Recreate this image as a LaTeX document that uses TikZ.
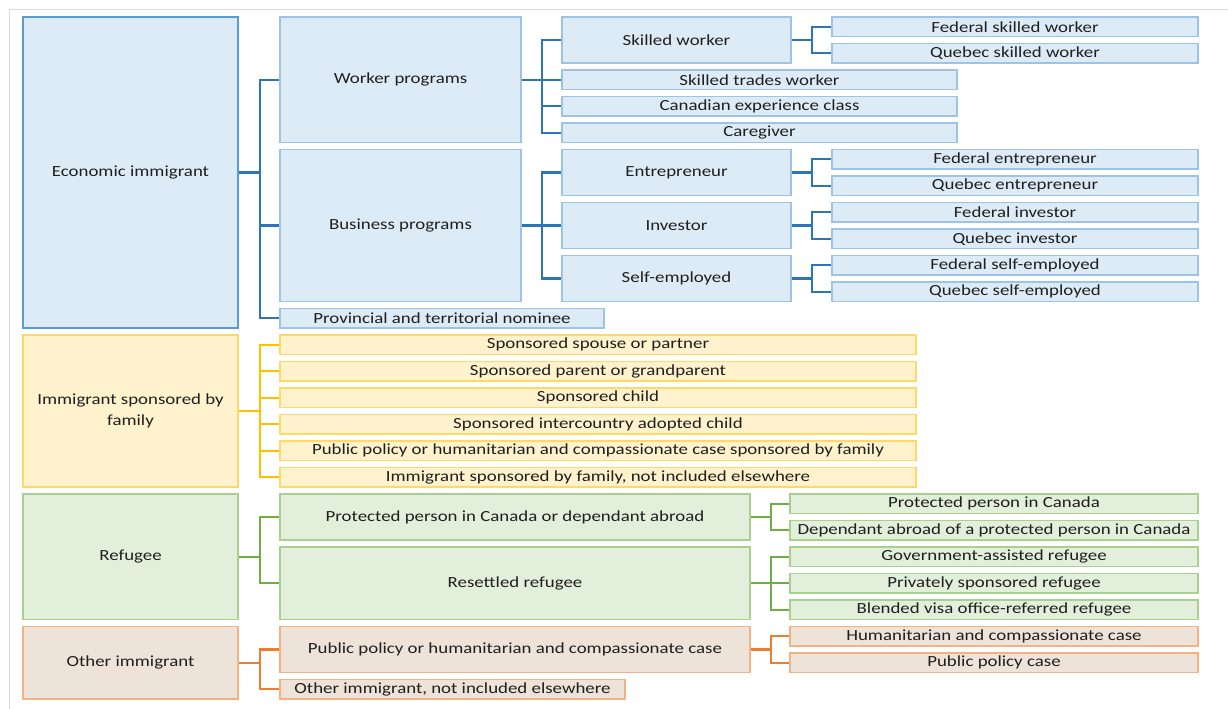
\documentclass[tikz,border=0pt]{standalone}
\usepackage{fontspec}
\setmainfont{Carlito}[FakeStretch=1.22]
\usepackage{tikz}

\definecolor{txtgray}{HTML}{1F1F1F}
\definecolor{framegray}{HTML}{D9D9D9}
\definecolor{ecofill}{HTML}{DDEBF7}
\definecolor{ecodraw}{HTML}{9DC3E6}
\definecolor{ecodark}{HTML}{5B9BD5}
\definecolor{ecoline}{HTML}{2E75B6}
\definecolor{famfill}{HTML}{FFF2CC}
\definecolor{famdraw}{HTML}{FFD966}
\definecolor{famline}{HTML}{FFC000}
\definecolor{reffill}{HTML}{E2EFDA}
\definecolor{refdraw}{HTML}{A9D08E}
\definecolor{refline}{HTML}{70AD47}
\definecolor{othfill}{HTML}{EEE3D9}
\definecolor{othdraw}{HTML}{F4B183}
\definecolor{othline}{HTML}{ED7D31}

\tikzstyle{box} = [rectangle, inner sep=1pt, line width=0.85pt, text=txtgray, font=\fontsize{8.8}{12}\selectfont, align=center]
\tikzstyle{eco} = [box, fill=ecofill, draw=ecodraw]
\tikzstyle{ecotop} = [box, fill=ecofill, draw=ecodark]
\tikzstyle{fam} = [box, fill=famfill, draw=famdraw]
\tikzstyle{ref} = [box, fill=reffill, draw=refdraw]
\tikzstyle{oth} = [box, fill=othfill, draw=othdraw]
\tikzstyle{ecolink} = [line width=1.3pt, draw=ecoline]
\tikzstyle{famlink} = [line width=1.3pt, draw=famline]
\tikzstyle{reflink} = [line width=1.3pt, draw=refline]
\tikzstyle{othlink} = [line width=1.3pt, draw=othline]
\tikzset{sz/.style 2 args={minimum width=#1*0.02cm, minimum height=#2*0.02cm}}

\begin{document}
\begin{tikzpicture}[x=0.02cm, y=-0.02cm]
\useasboundingbox (0,0) rectangle (1228,709);
\draw [framegray, line width=0.8pt] (9.5,709) -- (9.5,9.5) -- (1228,9.5);

% first level
\node (eco) [ecotop, sz={215}{311}] at (130.5,172.5) {Economic immigrant};
\node (fam) [fam, sz={215}{152}] at (130.5,411) {Immigrant sponsored by\\family};
\node (ref) [ref, sz={215}{125.5}] at (130.5,556.75) {Refugee};
\node (oth) [oth, sz={215}{72.5}] at (130.5,662.75) {Other immigrant};

% economic
\node (worker) [eco, sz={241}{125.5}] at (400.5,79.75) {Worker programs};
\node (business) [eco, sz={241}{152}] at (400.5,225.5) {Business programs};
\node (provincial) [eco, sz={324}{19.5}] at (442,318.25) {Provincial and territorial nominee};
\node (skilled) [eco, sz={229}{46}] at (676.5,40) {Skilled worker};
\node (trades) [eco, sz={395}{19.5}] at (759.5,79.75) {Skilled trades worker};
\node (cec) [eco, sz={395}{19.5}] at (759.5,106.25) {Canadian experience class};
\node (caregiver) [eco, sz={395}{19.5}] at (759.5,132.75) {Caregiver};
\node (entre) [eco, sz={229}{46}] at (676.5,172.5) {Entrepreneur};
\node (investor) [eco, sz={229}{46}] at (676.5,225.5) {Investor};
\node (selfemp) [eco, sz={229}{46}] at (676.5,278.5) {Self-employed};
\node (fedskilled) [eco, sz={366}{19.5}] at (1015,26.75) {Federal skilled worker};
\node (qcskilled) [eco, sz={366}{19.5}] at (1015,53.25) {Quebec skilled worker};
\node (fedentre) [eco, sz={366}{19.5}] at (1015,159.25) {Federal entrepreneur};
\node (qcentre) [eco, sz={366}{19.5}] at (1015,185.75) {Quebec entrepreneur};
\node (fedinv) [eco, sz={366}{19.5}] at (1015,212.25) {Federal investor};
\node (qcinv) [eco, sz={366}{19.5}] at (1015,238.75) {Quebec investor};
\node (fedself) [eco, sz={366}{19.5}] at (1015,265.25) {Federal self-employed};
\node (qcself) [eco, sz={366}{19.5}] at (1015,291.75) {Quebec self-employed};

% family
\node (spouse) [fam, sz={636}{19.5}] at (598,344.75) {Sponsored spouse or partner};
\node (parent) [fam, sz={636}{19.5}] at (598,371.25) {Sponsored parent or grandparent};
\node (child) [fam, sz={636}{19.5}] at (598,397.75) {Sponsored child};
\node (adopted) [fam, sz={636}{19.5}] at (598,424.25) {Sponsored intercountry adopted child};
\node (famhc) [fam, sz={636}{19.5}] at (598,450.75) {Public policy or humanitarian and compassionate case sponsored by family};
\node (famnie) [fam, sz={636}{19.5}] at (598,477.25) {Immigrant sponsored by family, not included elsewhere};

% refugee
\node (protected) [ref, sz={470}{46}] at (515,517) {Protected person in Canada or dependant abroad};
\node (resettled) [ref, sz={470}{72.5}] at (515,583.25) {Resettled refugee};
\node (pincanada) [ref, sz={408}{19.5}] at (994,503.75) {Protected person in Canada};
\node (dependant) [ref, sz={408}{19.5}] at (994,530.25) {Dependant abroad of a protected person in Canada};
\node (gar) [ref, sz={408}{19.5}] at (994,556.75) {Government-assisted refugee};
\node (psr) [ref, sz={408}{19.5}] at (994,583.25) {Privately sponsored refugee};
\node (bvor) [ref, sz={408}{19.5}] at (994,609.75) {Blended visa office-referred refugee};

% other
\node (policy) [oth, sz={470}{46}] at (515,649.5) {Public policy or humanitarian and compassionate case};
\node (othnie) [oth, sz={345}{19.5}] at (452.5,689.25) {Other immigrant, not included elsewhere};
\node (hc) [oth, sz={408}{19.5}] at (994,636.25) {Humanitarian and compassionate case};
\node (ppcase) [oth, sz={408}{19.5}] at (994,662.75) {Public policy case};

% connectors
\draw [ecolink] (eco.east) -- ++(21,0) |- (worker.west);
\draw [ecolink] (eco.east) -- ++(21,0) |- (business.west);
\draw [ecolink] (eco.east) -- ++(21,0) |- (provincial.west);
\draw [ecolink] (worker.east) -- ++(20.5,0) |- (skilled.west);
\draw [ecolink] (worker.east) -- ++(20.5,0) |- (trades.west);
\draw [ecolink] (worker.east) -- ++(20.5,0) |- (cec.west);
\draw [ecolink] (worker.east) -- ++(20.5,0) |- (caregiver.west);
\draw [ecolink] (business.east) -- ++(20.5,0) |- (entre.west);
\draw [ecolink] (business.east) -- ++(20.5,0) |- (investor.west);
\draw [ecolink] (business.east) -- ++(20.5,0) |- (selfemp.west);
\draw [ecolink] (skilled.east) -- ++(20.5,0) |- (fedskilled.west);
\draw [ecolink] (skilled.east) -- ++(20.5,0) |- (qcskilled.west);
\draw [ecolink] (entre.east) -- ++(20.5,0) |- (fedentre.west);
\draw [ecolink] (entre.east) -- ++(20.5,0) |- (qcentre.west);
\draw [ecolink] (investor.east) -- ++(20.5,0) |- (fedinv.west);
\draw [ecolink] (investor.east) -- ++(20.5,0) |- (qcinv.west);
\draw [ecolink] (selfemp.east) -- ++(20.5,0) |- (fedself.west);
\draw [ecolink] (selfemp.east) -- ++(20.5,0) |- (qcself.west);

\draw [famlink] (fam.east) -- ++(21,0) |- (spouse.west);
\draw [famlink] (fam.east) -- ++(21,0) |- (parent.west);
\draw [famlink] (fam.east) -- ++(21,0) |- (child.west);
\draw [famlink] (fam.east) -- ++(21,0) |- (adopted.west);
\draw [famlink] (fam.east) -- ++(21,0) |- (famhc.west);
\draw [famlink] (fam.east) -- ++(21,0) |- (famnie.west);

\draw [reflink] (ref.east) -- ++(21,0) |- (protected.west);
\draw [reflink] (ref.east) -- ++(21,0) |- (resettled.west);
\draw [reflink] (protected.east) -- ++(20,0) |- (pincanada.west);
\draw [reflink] (protected.east) -- ++(20,0) |- (dependant.west);
\draw [reflink] (resettled.east) -- ++(20,0) |- (gar.west);
\draw [reflink] (resettled.east) -- ++(20,0) |- (psr.west);
\draw [reflink] (resettled.east) -- ++(20,0) |- (bvor.west);

\draw [othlink] (oth.east) -- ++(21,0) |- (policy.west);
\draw [othlink] (oth.east) -- ++(21,0) |- (othnie.west);
\draw [othlink] (policy.east) -- ++(20,0) |- (hc.west);
\draw [othlink] (policy.east) -- ++(20,0) |- (ppcase.west);
\end{tikzpicture}
\end{document}
